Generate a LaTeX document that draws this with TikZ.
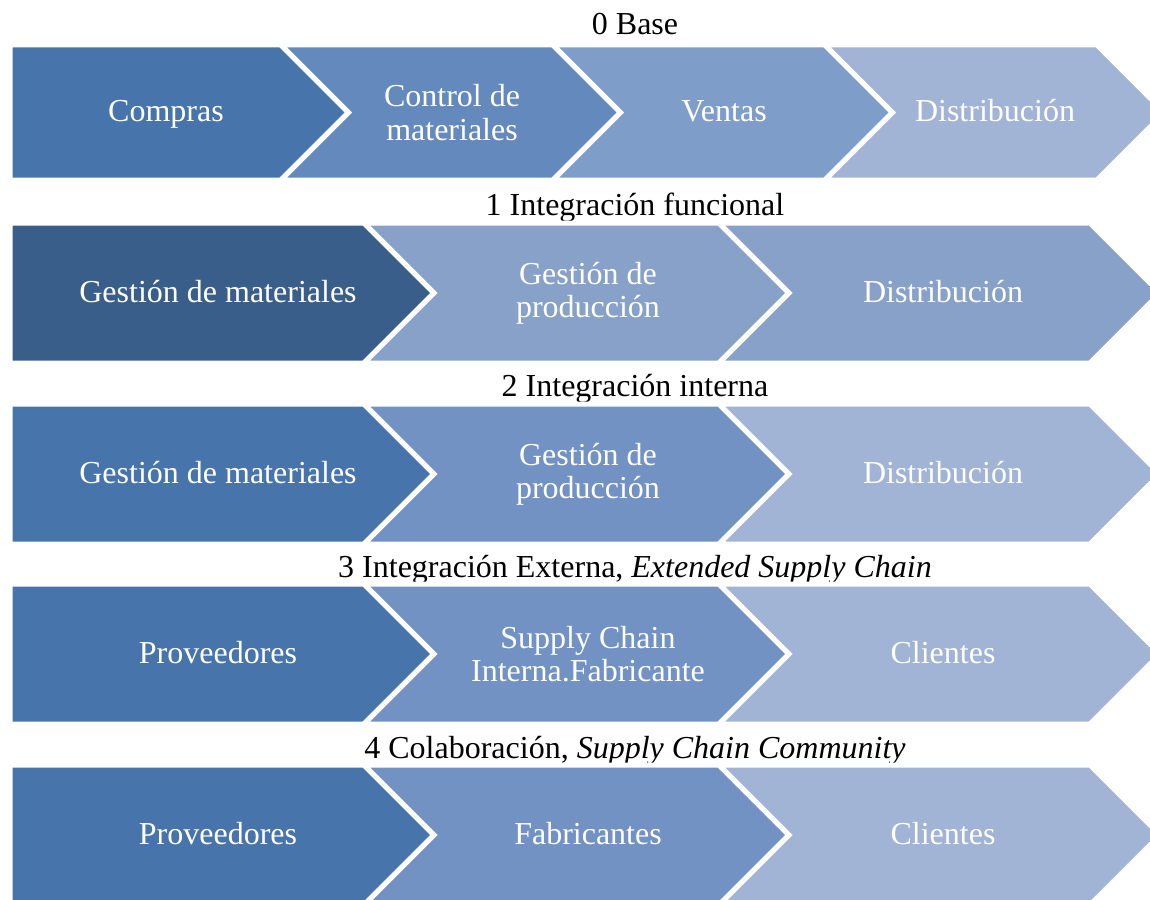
\documentclass[tikz,border=0pt]{standalone}
\usepackage{fontspec}
\setmainfont{Liberation Serif}
\usepackage{tikz}
\usepackage{xcolor}
\usetikzlibrary{positioning}
\definecolor{chevdark}{RGB}{71,116,170}
\definecolor{chevdeep}{RGB}{58,94,138}
\definecolor{chevmid}{RGB}{99,137,189}
\definecolor{chevsoft}{RGB}{127,157,201}
\definecolor{chevpale}{RGB}{135,161,201}
\definecolor{chevtone}{RGB}{113,146,195}
\definecolor{chevlight}{RGB}{161,180,214}

\begin{document}
\begin{tikzpicture}[
    x=0.5pt, y=-0.5pt,
    chev/.style={draw=white, line width=2.5pt, line join=miter},
    stage/.style={text=white, align=center, font=\fontsize{16}{16.7}\selectfont},
    stageline/.style={stage, text height=0.95em, text depth=0.01em},
    level/.style={anchor=base, font=\fontsize{16}{19}\selectfont}
]
\useasboundingbox (0,0) rectangle (1150,899);
\clip (0,0) rectangle (1150,899);

% Level 0
\node[level] (t0) at (635,35) {0 Base};
\fill[chev, fill=chevdark] (10,45) -- (281,45) -- (348.5,112.5) -- (281,180) -- (10,180) -- cycle;
\fill[chev, fill=chevmid] (281,45) -- (553,45) -- (620.5,112.5) -- (553,180) -- (281,180) -- (348.5,112.5) -- cycle;
\fill[chev, fill=chevsoft] (553,45) -- (825,45) -- (892.5,112.5) -- (825,180) -- (553,180) -- (620.5,112.5) -- cycle;
\fill[chev, fill=chevlight] (825,45) -- (1097,45) -- (1164.5,112.5) -- (1097,180) -- (825,180) -- (892.5,112.5) -- cycle;
\node[stageline] (compras) at (166,112.5) {Compras};
\node[stage] (control) at (452,112.5) {Control de\\materiales};
\node[stageline] (ventas) at (724,112.5) {Ventas};
\node[stageline] (distr0) at (995,112.5) {Distribución};

% Level 1
\node[level] (t1) at (635,215.5) {1 Integración funcional};
\fill[chev, fill=chevdeep] (10,223) -- (364,223) -- (434,293) -- (364,363) -- (10,363) -- cycle;
\fill[chev, fill=chevpale] (364,223) -- (719,223) -- (789,293) -- (719,363) -- (364,363) -- (434,293) -- cycle;
\fill[chev, fill=chevpale] (719,223) -- (1090,223) -- (1160,293) -- (1090,363) -- (719,363) -- (789,293) -- cycle;
\node[stageline] (mat1) at (218,293) {Gestión de materiales};
\node[stage] (prod1) at (588,293) {Gestión de\\producción};
\node[stageline] (distr1) at (943,293) {Distribución};

% Level 2
\node[level] (t2) at (635,396) {2 Integración interna};
\fill[chev, fill=chevdark] (10,404) -- (364,404) -- (434,474) -- (364,544) -- (10,544) -- cycle;
\fill[chev, fill=chevtone] (364,404) -- (719,404) -- (789,474) -- (719,544) -- (364,544) -- (434,474) -- cycle;
\fill[chev, fill=chevlight] (719,404) -- (1090,404) -- (1160,474) -- (1090,544) -- (719,544) -- (789,474) -- cycle;
\node[stageline] (mat2) at (218,474) {Gestión de materiales};
\node[stage] (prod2) at (588,474) {Gestión de\\producción};
\node[stageline] (distr2) at (943,474) {Distribución};

% Level 3
\node[level] (t3) at (635,577.5) {3 Integración Externa, \textit{Extended Supply Chain}};
\fill[chev, fill=chevdark] (10,584) -- (364,584) -- (434,654) -- (364,724) -- (10,724) -- cycle;
\fill[chev, fill=chevtone] (364,584) -- (719,584) -- (789,654) -- (719,724) -- (364,724) -- (434,654) -- cycle;
\fill[chev, fill=chevlight] (719,584) -- (1090,584) -- (1160,654) -- (1090,724) -- (719,724) -- (789,654) -- cycle;
\node[stageline] (prov3) at (218,654) {Proveedores};
\node[stage] (fab3) at (588,654) {Supply Chain\\Interna.Fabricante};
\node[stageline] (cli3) at (943,654) {Clientes};

% Level 4
\node[level] (t4) at (635,758) {4 Colaboración, \textit{Supply Chain Community}};
\fill[chev, fill=chevdark] (10,765) -- (364,765) -- (434,835) -- (364,905) -- (10,905) -- cycle;
\fill[chev, fill=chevtone] (364,765) -- (719,765) -- (789,835) -- (719,905) -- (364,905) -- (434,835) -- cycle;
\fill[chev, fill=chevlight] (719,765) -- (1090,765) -- (1160,835) -- (1090,905) -- (719,905) -- (789,835) -- cycle;
\node[stageline] (prov4) at (218,835) {Proveedores};
\node[stageline] (fab4) at (588,835) {Fabricantes};
\node[stageline] (cli4) at (943,835) {Clientes};

\end{tikzpicture}
\end{document}
